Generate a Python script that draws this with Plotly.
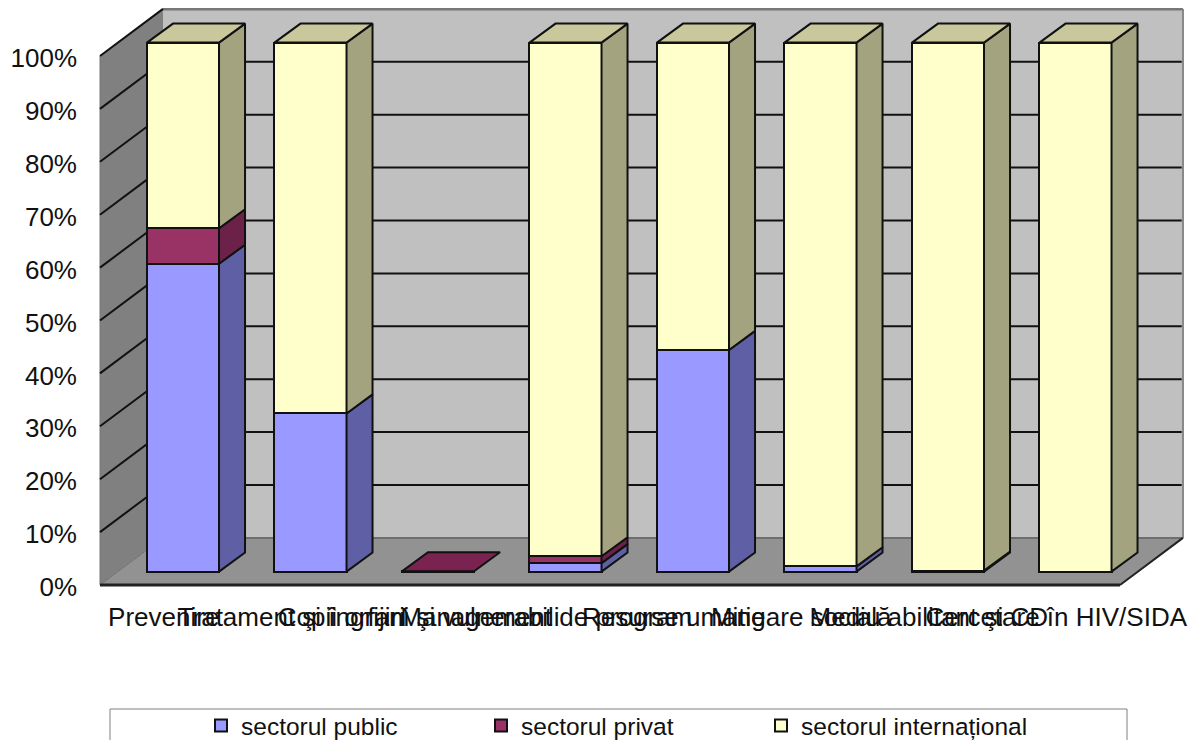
import plotly.graph_objects as go

categories = ["Prevenire", "Tratament şi îngrijiri", "Copii orfani şi vulnerabili",
              "Management de program", "Resurse umane", "Mitigare socială",
              "Mediu abilitant şi CD", "Cercetare în HIV/SIDA"]
sector_public = [58.2, 29.9, 0, 1.6, 41.9, 1.0, 0.2, 0]
sector_privat = [6.7, 0, 0.05, 1.3, 0, 0, 0, 0]
sector_international = [35.1, 70.1, 0, 97.1, 58.1, 99.0, 99.8, 100]

series = [
    ("sectorul public", sector_public, "#9999FF", "#5F5FA5", "#7C7CCC"),
    ("sectorul privat", sector_privat, "#993366", "#6B2148", "#7A2350"),
    ("sectorul internațional", sector_international, "#FFFFCC", "#A3A380", "#C8C89C"),
]
y_ticks = list(range(0, 101, 10))

# oblique projection, in axis units
WALL_DX, WALL_DY = 0.494, 8.9
BAR_SHIFT_X, BAR_BASE = 0.151, 2.53
BAR_WIDTH = 0.565
BAR_DX, BAR_DY = 0.204, 3.6
N = len(categories)
X_MAX = N + WALL_DX
EDGE = dict(color="#111111", width=2)

fig = go.Figure()
shapes = []


def poly(pts, fill, line_color=None, width=0):
    path = "M " + " L ".join(f"{x},{y}" for x, y in pts) + " Z"
    shapes.append(dict(type="path", path=path, xref="x", yref="y", layer="below",
                       fillcolor=fill, line=dict(color=line_color or fill, width=width)))


def seg(x0, y0, x1, y1, color="#111111", width=2):
    shapes.append(dict(type="line", x0=x0, y0=y0, x1=x1, y1=y1, xref="x", yref="y",
                       layer="below", line=dict(color=color, width=width)))


# walls and floor
poly([(WALL_DX, WALL_DY), (X_MAX, WALL_DY), (X_MAX, 100 + WALL_DY), (WALL_DX, 100 + WALL_DY)], "#C0C0C0")
poly([(0, 0), (WALL_DX, WALL_DY), (WALL_DX, 100 + WALL_DY), (0, 100)], "#808080")
poly([(0, 0), (N, 0), (X_MAX, WALL_DY), (WALL_DX, WALL_DY)], "#929292")
seg(WALL_DX, 100 + WALL_DY, X_MAX, 100 + WALL_DY, "#777777", 3)
seg(X_MAX, WALL_DY, X_MAX, 100 + WALL_DY, "#888888", 2)
seg(WALL_DX, WALL_DY, X_MAX, WALL_DY, "#6E6E6E", 2)
seg(0, 0, WALL_DX, WALL_DY, "#707070", 1)
seg(0, 0, 0, 100, "#777777", 1)
for t in y_ticks[1:]:
    seg(0, t, WALL_DX, t + WALL_DY)
    if t < 100:
        seg(WALL_DX, t + WALL_DY, X_MAX - 0.01, t + WALL_DY)
seg(0, 0, N, 0, "#222222", 3)
seg(N, 0, X_MAX, WALL_DY, "#222222", 2)

# front faces
positions = [i + 0.5 + BAR_SHIFT_X for i in range(N)]
bases = [BAR_BASE] * N
all_bases = []
for name, vals, front, side, top in series:
    fig.add_trace(go.Bar(name=name, x=positions, y=vals, base=list(bases), width=BAR_WIDTH,
                         marker=dict(color=front, line=EDGE), showlegend=True))
    all_bases.append(list(bases))
    bases = [b + v for b, v in zip(bases, vals)]

# side faces and tops, derived from the same values
for (name, vals, front, side, top), base in zip(series, all_bases):
    for i, v in enumerate(vals):
        if v <= 0.1:
            continue
        x1 = positions[i] + BAR_WIDTH / 2
        y0, y2 = base[i], base[i] + v
        fig.add_trace(go.Scatter(
            x=[x1, x1 + BAR_DX, x1 + BAR_DX, x1, x1],
            y=[y0, y0 + BAR_DY, y2 + BAR_DY, y2, y0],
            mode="lines", fill="toself", fillcolor=side, line=EDGE,
            hoverinfo="skip", showlegend=False))
for i in range(N):
    top_color = [s[4] for s in series if s[1][i] > 0][-1]
    x0 = positions[i] - BAR_WIDTH / 2
    x1 = positions[i] + BAR_WIDTH / 2
    yt = bases[i]
    fig.add_trace(go.Scatter(
        x=[x0, x1, x1 + BAR_DX, x0 + BAR_DX, x0],
        y=[yt, yt, yt + BAR_DY, yt + BAR_DY, yt],
        mode="lines", fill="toself", fillcolor=top_color, line=EDGE,
        hoverinfo="skip", showlegend=False))

# page pixel layout (the page has an 8 px body margin)
BODY = 8
PX_X0, PX_PER_CAT = 100, 127.5
PX_Y0, PX_PER_PCT = 585, 5.29
PLOT_L, PLOT_R, PLOT_T, PLOT_B = 98, 1186, 8, 588
FIG_W, FIG_H = 1196, 760
px_x = lambda p: (p - PLOT_L) / (PLOT_R - PLOT_L)
px_y = lambda p: (PLOT_B - p) / (PLOT_B - PLOT_T)
shapes.append(dict(type="rect", xref="paper", yref="paper",
                   x0=px_x(110), x1=px_x(1127), y0=px_y(770), y1=px_y(709),
                   fillcolor="white", line=dict(color="#808080", width=1), layer="below"))

FONT = "Liberation Sans, Arial, sans-serif"
fig.update_layout(
    width=FIG_W, height=FIG_H, autosize=False,
    margin=dict(l=PLOT_L - BODY, r=FIG_W + BODY - PLOT_R, t=PLOT_T - BODY,
                b=FIG_H + BODY - PLOT_B, pad=0),
    paper_bgcolor="white", plot_bgcolor="rgba(0,0,0,0)",
    barmode="overlay", bargap=0, shapes=shapes,
    font=dict(family=FONT, size=26, color="#111111"),
    xaxis=dict(range=[(PLOT_L - PX_X0) / PX_PER_CAT, (PLOT_R - PX_X0) / PX_PER_CAT],
               tickmode="array", tickvals=[i + 0.5 for i in range(N)],
               ticktext=categories, tickangle=0, showgrid=False, zeroline=False, showline=False,
               ticks="", ticklabelstandoff=11, ticklabeloverflow="allow", automargin=False,
               fixedrange=True),
    yaxis=dict(range=[(PX_Y0 - PLOT_B) / PX_PER_PCT, (PX_Y0 - PLOT_T) / PX_PER_PCT],
               tickmode="array", tickvals=y_ticks,
               ticktext=[f"{t}%" for t in y_ticks], showgrid=False, zeroline=False,
               showline=False, ticks="", ticklabelstandoff=20, ticklabelshift=2,
               ticklabeloverflow="allow", automargin=False, fixedrange=True),
    legend=dict(orientation="h", x=px_x(201), xanchor="left", y=px_y(703), yanchor="top",
                bgcolor="rgba(0,0,0,0)", borderwidth=0, entrywidth=235, entrywidthmode="pixels",
                itemclick=False, itemdoubleclick=False, font=dict(size=24.5), traceorder="normal"),
    showlegend=True,
)
fig.write_html("out.html")
